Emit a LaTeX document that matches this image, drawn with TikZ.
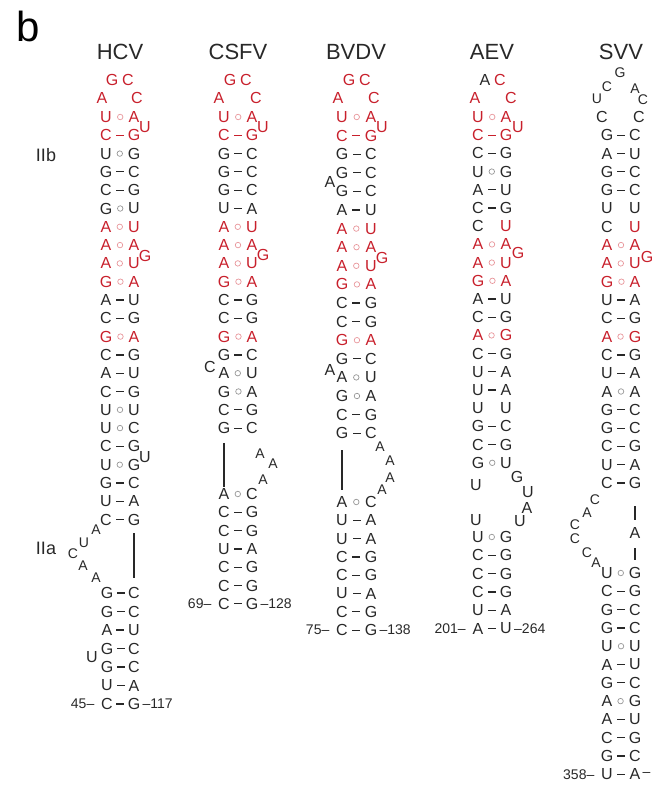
\documentclass[tikz,border=0pt]{standalone}
\usepackage{fontspec}
\setmainfont{Liberation Sans}
\usetikzlibrary{positioning}
\definecolor{inkk}{RGB}{40,40,40}
\definecolor{inkr}{RGB}{200,32,44}
\definecolor{dotk}{RGB}{150,150,150}
\definecolor{dotr}{RGB}{232,150,155}

\begin{document}
\begin{tikzpicture}[x=1pt,y=-1pt,
  base/.style={text=ink#1,inner sep=0.5pt,font=\fontsize{16}{18}\selectfont},
  small/.style={text=ink#1,inner sep=0.5pt,font=\fontsize{14}{16}\selectfont},
  bw/.style={fill=ink#1,inner sep=0pt,minimum width=8pt,minimum height=1.2pt},
  bo/.style={draw=dot#1,circle,line width=0.7pt,inner sep=0pt,minimum size=5.5pt},
  bn/.style={inner sep=0pt},
  virusname/.style={text=inkk,font=\fontsize{22}{24}\selectfont},
  region/.style={text=inkk,font=\fontsize{18}{20}\selectfont},
  num/.style={text=inkk,inner sep=0pt,font=\fontsize{14}{16}\selectfont},
  loopline/.style={draw=inkk,line width=1.2pt}]
  \useasboundingbox (0,0) rectangle (653,794);

  \node (panel) at (28,26) [font=\fontsize{42}{44}\selectfont]{b};
  \node (IIb) at (46,155) [region]{IIb};
  \node (IIa) at (46,548) [region]{IIa};

  \node (hcv) at (120,52) [virusname]{HCV};
  \node (csfv) at (238,52) [virusname]{CSFV};
  \node (bvdv) at (356,52) [virusname]{BVDV};
  \node (aev) at (492,52) [virusname]{AEV};
  \node (svv) at (621,52) [virusname]{SVV};

  % HCV
  \foreach \lb/\bd/\rb/\tn [count=\i] in {U/bo/A/r, C/bw/G/r, U/bo/G/k, G/bw/C/k, C/bw/G/k, G/bo/U/k, A/bo/U/r, A/bo/A/r, A/bo/U/r, G/bo/A/r, A/bw/U/k, C/bw/G/k, G/bo/A/r, C/bw/G/k, A/bw/U/k, C/bw/G/k, U/bo/U/k, U/bo/C/k, C/bw/G/k, U/bo/G/k, G/bw/C/k, U/bw/A/k, C/bw/G/k}{
    \node (hcvL\i) at (106,{117+(\i-1)*18.3}) [base=\tn]{\lb};
    \node (hcvR\i) at (134,{117+(\i-1)*18.3}) [base=\tn]{\rb};
    \path (hcvL\i) -- node[\bd=\tn]{} (hcvR\i);
  }
  \foreach \lb/\bd/\rb/\tn [count=\i] in {G/bw/C/k, G/bw/C/k, A/bw/U/k, G/bw/C/k, G/bw/C/k, U/bw/A/k, C/bw/G/k}{
    \node (hcvbL\i) at (107,{593+(\i-1)*18.5}) [base=\tn]{\lb};
    \node (hcvbR\i) at (134,{593+(\i-1)*18.5}) [base=\tn]{\rb};
    \path (hcvbL\i) -- node[\bd=\tn]{} (hcvbR\i);
  }
  \node (hcvh1) at (112,80) [base=r]{G};
  \node (hcvh2) at (128,80) [base=r]{C};
  \node (hcvh3) at (102,98) [base=r]{A};
  \node (hcvh4) at (137,98) [base=r]{C};
  \node (hcvu1) at (145,127) [base=r]{U};
  \node (hcvg1) at (145,256) [base=r]{G};
  \node (hcvu2) at (145,457) [base=k]{U};
  \node (hcvu3) at (92,657) [base=k]{U};
  \node (hcvi1) at (96,530) [small=k]{A};
  \node (hcvi2) at (84,543) [small=k]{U};
  \node (hcvi3) at (73,554) [small=k]{C};
  \node (hcvi4) at (83,566) [small=k]{A};
  \node (hcvi5) at (96,578) [small=k]{A};
  \draw[loopline,shorten <=7.5pt,shorten >=8.5pt] (hcvR23) -- (hcvbR1);
  \node (hcv5) [num,left=6pt of hcvbL7]{45–};
  \node (hcv3) [num,right=1.5pt of hcvbR7]{–117};

  % CSFV
  \foreach \lb/\bd/\rb/\tn [count=\i] in {U/bo/A/r, C/bw/G/r, G/bw/C/k, G/bw/C/k, G/bw/C/k, U/bw/A/k, A/bo/U/r, A/bo/A/r, A/bo/U/r, G/bo/A/r, C/bw/G/k, C/bw/G/k, G/bo/A/r, G/bw/C/k, A/bo/U/k, G/bo/A/k, C/bw/G/k, G/bw/C/k}{
    \node (csfvL\i) at (224,{117+(\i-1)*18.3}) [base=\tn]{\lb};
    \node (csfvR\i) at (252,{117+(\i-1)*18.3}) [base=\tn]{\rb};
    \path (csfvL\i) -- node[\bd=\tn]{} (csfvR\i);
  }
  \foreach \lb/\bd/\rb/\tn [count=\i] in {A/bo/C/k, C/bw/G/k, C/bw/G/k, U/bw/A/k, C/bw/G/k, C/bw/G/k, C/bw/G/k}{
    \node (csfvbL\i) at (224,{494+(\i-1)*18.3}) [base=\tn]{\lb};
    \node (csfvbR\i) at (252,{494+(\i-1)*18.3}) [base=\tn]{\rb};
    \path (csfvbL\i) -- node[\bd=\tn]{} (csfvbR\i);
  }
  \node (csfvh1) at (230,80) [base=r]{G};
  \node (csfvh2) at (246,80) [base=r]{C};
  \node (csfvh3) at (219,98) [base=r]{A};
  \node (csfvh4) at (256,98) [base=r]{C};
  \node (csfvu1) at (263,127) [base=r]{U};
  \node (csfvg1) at (263,255) [base=r]{G};
  \node (csfvc1) at (210,367) [base=k]{C};
  \node (csfvi1) at (260,454) [small=k]{A};
  \node (csfvi2) at (273,464) [small=k]{A};
  \node (csfvi3) at (263,480) [small=k]{A};
  \draw[loopline,shorten <=8.5pt,shorten >=1pt] (csfvL18) -- (csfvbL1);
  \node (csfv5) [num,left=6pt of csfvbL7]{69–};
  \node (csfv3) [num,right=1.5pt of csfvbR7]{–128};

  % BVDV
  \foreach \lb/\bd/\rb/\tn [count=\i] in {U/bo/A/r, C/bw/G/r, G/bw/C/k, G/bw/C/k, G/bw/C/k, A/bw/U/k, A/bo/U/r, A/bo/A/r, A/bo/U/r, G/bo/A/r, C/bw/G/k, C/bw/G/k, G/bo/A/r, G/bw/C/k, A/bo/U/k, G/bo/A/k, C/bw/G/k, G/bw/C/k}{
    \node (bvdvL\i) at (342,{117+(\i-1)*18.6}) [base=\tn]{\lb};
    \node (bvdvR\i) at (371,{117+(\i-1)*18.6}) [base=\tn]{\rb};
    \path (bvdvL\i) -- node[\bd=\tn]{} (bvdvR\i);
  }
  \foreach \lb/\bd/\rb/\tn [count=\i] in {A/bo/C/k, U/bw/A/k, U/bw/A/k, C/bw/G/k, C/bw/G/k, U/bw/A/k, C/bw/G/k, C/bw/G/k}{
    \node (bvdvbL\i) at (342,{502+(\i-1)*18.3}) [base=\tn]{\lb};
    \node (bvdvbR\i) at (371,{502+(\i-1)*18.3}) [base=\tn]{\rb};
    \path (bvdvbL\i) -- node[\bd=\tn]{} (bvdvbR\i);
  }
  \node (bvdvh1) at (349,80) [base=r]{G};
  \node (bvdvh2) at (365,80) [base=r]{C};
  \node (bvdvh3) at (338,98) [base=r]{A};
  \node (bvdvh4) at (374,98) [base=r]{C};
  \node (bvdvu1) at (382,127) [base=r]{U};
  \node (bvdva1) at (330,182) [base=k]{A};
  \node (bvdvg1) at (382,258) [base=r]{G};
  \node (bvdva2) at (330,370) [base=k]{A};
  \node (bvdvi1) at (380,447) [small=k]{A};
  \node (bvdvi2) at (390,461) [small=k]{A};
  \node (bvdvi3) at (390,478) [small=k]{A};
  \node (bvdvi4) at (382,490) [small=k]{A};
  \draw[loopline,shorten <=10.5pt,shorten >=5.5pt] (bvdvL18) -- (bvdvbL1);
  \node (bvdv5) [num,left=6pt of bvdvbL8]{75–};
  \node (bvdv3) [num,right=1.5pt of bvdvbR8]{–138};

  % AEV
  \foreach \lb/\bd/\rb/\tn [count=\i] in {U/bo/A/r, C/bw/G/r, C/bw/G/k, U/bo/G/k, A/bw/U/k, C/bw/G/k, C/bn/{\textcolor{inkr}{U}}/k, A/bo/A/r, A/bo/U/r, G/bo/A/r, A/bw/U/k, C/bw/G/k, A/bo/G/r, C/bw/G/k, U/bw/A/k, U/bw/A/k, U/bn/U/k, G/bw/C/k, C/bw/G/k, G/bo/U/k}{
    \node (aevL\i) at (478,{117+(\i-1)*18.2}) [base=\tn]{\lb};
    \node (aevR\i) at (506,{117+(\i-1)*18.2}) [base=\tn]{\rb};
    \path (aevL\i) -- node[\bd=\tn]{} (aevR\i);
  }
  \foreach \lb/\bd/\rb/\tn [count=\i] in {U/bo/G/k, C/bw/G/k, C/bw/G/k, C/bw/G/k, U/bw/A/k, A/bw/U/k}{
    \node (aevbL\i) at (478,{537+(\i-1)*18.3}) [base=\tn]{\lb};
    \node (aevbR\i) at (506,{537+(\i-1)*18.3}) [base=\tn]{\rb};
    \path (aevbL\i) -- node[\bd=\tn]{} (aevbR\i);
  }
  \node (aevh1) at (485,80) [base=k]{A};
  \node (aevh2) at (500,80) [base=r]{C};
  \node (aevh3) at (475,98) [base=r]{A};
  \node (aevh4) at (511,98) [base=r]{C};
  \node (aevu1) at (518,127) [base=r]{U};
  \node (aevg1) at (518,253) [base=r]{G};
  \node (aevi1) at (476,485) [base=k]{U};
  \node (aevi2) at (476,520) [base=k]{U};
  \node (aevi3) at (517,477) [base=k]{G};
  \node (aevi4) at (528,492) [base=k]{U};
  \node (aevi5) at (527,508) [base=k]{A};
  \node (aevi6) at (520,521) [base=k]{U};
  \node (aev5) [num,left=6pt of aevbL6]{201–};
  \node (aev3) [num,right=1.5pt of aevbR6]{–264};

  % SVV
  \foreach \lb/\bd/\rb/\tn [count=\i from 2] in {G/bw/C/k, A/bw/U/k, G/bw/C/k, G/bw/C/k, U/bn/U/k, C/bn/{\textcolor{inkr}{U}}/k, A/bo/A/r, A/bo/U/r, G/bo/A/r, U/bw/A/k, C/bw/G/k, A/bo/G/r, C/bw/G/k, U/bw/A/k, A/bo/A/k, G/bw/C/k, G/bw/C/k, C/bw/G/k, U/bw/A/k, C/bw/G/k}{
    \node (svvL\i) at (607,{117+(\i-1)*18.3}) [base=\tn]{\lb};
    \node (svvR\i) at (635,{117+(\i-1)*18.3}) [base=\tn]{\rb};
    \path (svvL\i) -- node[\bd=\tn]{} (svvR\i);
  }
  \foreach \lb/\bd/\rb/\tn [count=\i] in {U/bo/G/k, C/bw/G/k, G/bw/C/k, G/bw/C/k, U/bo/U/k, A/bw/U/k, G/bw/C/k, A/bo/G/k, A/bw/U/k, C/bw/G/k, G/bw/C/k, U/bw/A/k}{
    \node (svvbL\i) at (607,{573+(\i-1)*18.3}) [base=\tn]{\lb};
    \node (svvbR\i) at (635,{573+(\i-1)*18.3}) [base=\tn]{\rb};
    \path (svvbL\i) -- node[\bd=\tn]{} (svvbR\i);
  }
  \node (svvh1) at (602,117) [base=k]{C};
  \node (svvh2) at (597,99) [small=k]{U};
  \node (svvh3) at (607,87) [small=k]{C};
  \node (svvh4) at (620,73) [small=k]{G};
  \node (svvh5) at (635,89) [small=k]{A};
  \node (svvh6) at (643,100) [small=k]{C};
  \node (svvh7) at (639,117) [base=k]{C};
  \node (svvg1) at (647,257) [base=r]{G};
  \node (svvi1) at (595,500) [small=k]{C};
  \node (svvi2) at (587,513) [small=k]{A};
  \node (svvi3) at (575,525) [small=k]{C};
  \node (svvi4) at (575,539) [small=k]{C};
  \node (svvi5) at (587,553) [small=k]{C};
  \node (svvi6) at (596,563) [small=k]{A};
  \node (svvmid) at (635,533) [base=k]{A};
  \draw[loopline,shorten <=17pt,shorten >=7pt] (svvR21) -- (svvmid);
  \draw[loopline,shorten <=9pt,shorten >=6.5pt] (svvmid) -- (svvbR1);
  \node (svv5) [num,left=6pt of svvbL12]{358–};
  \node (svv3) [num,right=1.5pt of svvbR12]{–};
\end{tikzpicture}
\end{document}
